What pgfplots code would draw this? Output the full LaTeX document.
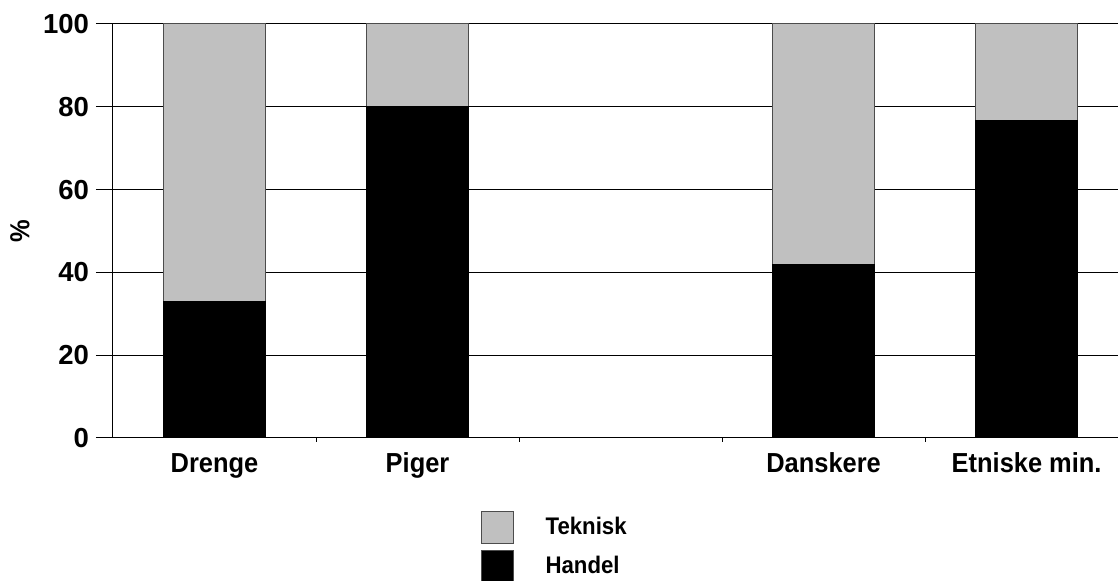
\documentclass[border=0pt]{standalone}
\usepackage{pgfplots}
\pgfplotsset{compat=1.18}
\usepackage{fontspec}
\setmainfont{Liberation Sans}
\newfontfamily\chartfont[BoldFeatures={FakeStretch=0.925}]{Liberation Sans}
\definecolor{tekgray}{RGB}{192,192,192}

\begin{document}
\begin{tikzpicture}
\useasboundingbox (-56.5pt,-71.5pt) rectangle (502.5pt,219pt);
\begin{axis}[
    at={(0,0)}, anchor=south west,
    scale only axis,
    width=503pt, height=207pt,
    clip=false,
    ybar stacked,
    bar width=0.5,
    xmin=-0.5, xmax=4.455,
    ymin=0, ymax=100,
    ytick={0,20,...,100},
    ymajorgrids=true,
    grid style={black, line width=0.5pt},
    axis line style={black, line width=0.5pt},
    xtick pos=bottom, ytick pos=left,
    xtick align=inside, ytick align=outside,
    major tick length=8.5pt,
    tick style={black, line width=0.5pt},
    xtick={0,1,3,4},
    xticklabels={Drenge,Piger,Danskere,Etniske min.},
    extra x ticks={0.5,1.5,2.5,3.5},
    extra x tick labels={},
    extra x tick style={major tick length=2pt, xtick align=outside, grid=none},
    font=\fontsize{13.75}{16}\chartfont\bfseries,
    /pgf/number format/assume math mode=true,
    xticklabel style={font=\fontsize{13.75}{16}\chartfont\bfseries, anchor=base, yshift=-17.5pt},
    yticklabel style={font=\fontsize{13.75}{16}\selectfont\bfseries},
    ylabel={\%},
    ylabel style={at={(axis description cs:-0.0925,0.5)}, anchor=center},
    reverse legend,
    legend style={draw=none, at={(0.365,-0.176)}, anchor=north west,
        font=\fontsize{12}{14}\chartfont\bfseries,
        row sep=3pt, inner sep=0pt},
    legend image code/.code={\draw[#1, draw=black!70, line width=0.5pt] (0pt,-8pt) rectangle (16pt,8pt);},
    legend cell align=left,
]
\addplot[fill=black, draw=black, line width=0.5pt] coordinates {
    (0,33) (1,80) (3,42) (4,76.6)
};
\addlegendentry{\hspace{14pt}Handel}
\addplot[fill=tekgray, draw=black!70, line width=0.5pt] coordinates {
    (0,67) (1,20) (3,58) (4,23.4)
};
\addlegendentry{\hspace{14pt}Teknisk}
% short outward stubs of the y grid, left of the axis
\foreach \yv in {0,20,...,100} {
    \edef\stub{\noexpand\draw[black, line width=0.5pt] (axis cs:-0.5,\yv) -- ++(-8.5pt,0pt);}
    \stub
}
\end{axis}
\end{tikzpicture}
\end{document}
